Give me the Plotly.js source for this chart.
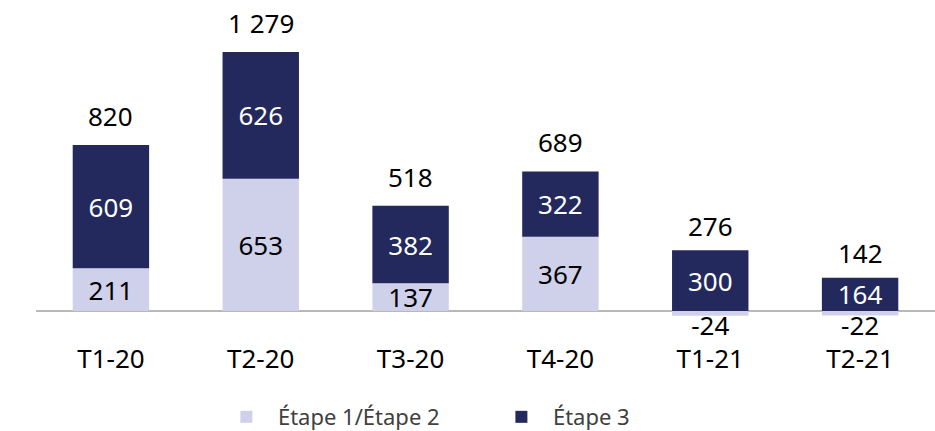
<!DOCTYPE html>
<html>
<head>
<meta charset="utf-8">
<script src="https://cdn.plot.ly/plotly-3.0.1.min.js"></script>
<style>html,body{margin:0;padding:0;background:#fff}#chart{width:935px;height:431px}</style>
</head>
<body>
<div id="chart"></div>
<script>
const categories = ['T1-20','T2-20','T3-20','T4-20','T1-21','T2-21'];
const etape12 = [211, 653, 137, 367, -24, -22];
const etape3 = [609, 626, 382, 322, 300, 164];
const totals = [820, 1279, 518, 689, 276, 142];
const totalLabels = ['820','1 279','518','689','276','142'];

const FONT = 'Noto Sans, Open Sans, sans-serif';
const LIGHT = '#CFD1EA';
const DARK = '#23295C';
const VSIZE = 26;

const negE12 = etape12.map(v => v < 0 ? v : null);

const traces = [
  {
    type: 'bar', name: 'Étape 1/Étape 2', x: categories, y: etape12,
    marker: {color: LIGHT},
    text: etape12.map(v => v >= 0 ? String(v) : ''),
    textposition: 'inside', insidetextanchor: 'middle', constraintext: 'none',
    textfont: {color: '#000', size: VSIZE, family: FONT},
    hoverinfo: 'skip'
  },
  {
    type: 'bar', name: 'Étape 3', x: categories, y: etape3,
    marker: {color: DARK},
    text: etape3.map(String),
    textposition: 'inside', insidetextanchor: 'middle', constraintext: 'none',
    textfont: {color: '#fff', size: VSIZE, family: FONT},
    hoverinfo: 'skip'
  },
  {
    type: 'scatter', mode: 'text', x: categories, y: negE12,
    text: negE12.map(v => v === null ? '' : String(v)),
    textposition: 'bottom center',
    marker: {size: 1},
    textfont: {color: '#000', size: VSIZE, family: FONT},
    showlegend: false, hoverinfo: 'skip', cliponaxis: false
  }
];

const annotations = categories.map((c, i) => ({
  x: c, y: totals[i], xref: 'x', yref: 'y',
  text: totalLabels[i], showarrow: false,
  yanchor: 'bottom', yshift: 9,
  font: {color: '#000', size: VSIZE, family: FONT}
}));

const layout = {
  width: 935, height: 431,
  margin: {l: 36, r: 0, t: 10, b: 100, autoexpand: false},
  barmode: 'relative',
  bargap: 0.49,
  paper_bgcolor: '#fff', plot_bgcolor: '#fff',
  font: {family: FONT, color: '#000'},
  xaxis: {
    type: 'category', range: [-0.5, 5.5],
    showline: false, showgrid: false, ticks: '',
    tickfont: {size: 26, color: '#000', family: FONT},
    ticklabelstandoff: 10
  },
  yaxis: {
    range: [-98.8, 1486],
    showticklabels: false, showgrid: false, showline: false, ticks: '',
    zeroline: true, zerolinecolor: '#b8b8b8', zerolinewidth: 1.5
  },
  annotations: annotations,
  legend: {
    orientation: 'h', x: 0.199, xanchor: 'left', y: -0.268, yanchor: 'middle',
    font: {size: 22, color: '#404040', family: FONT},
    itemwidth: 53, entrywidth: 207, entrywidthmode: 'pixels', traceorder: 'normal'
  },
  showlegend: true
};

Plotly.newPlot('chart', traces, layout, {displayModeBar: false, staticPlot: true});
</script>
</body>
</html>
